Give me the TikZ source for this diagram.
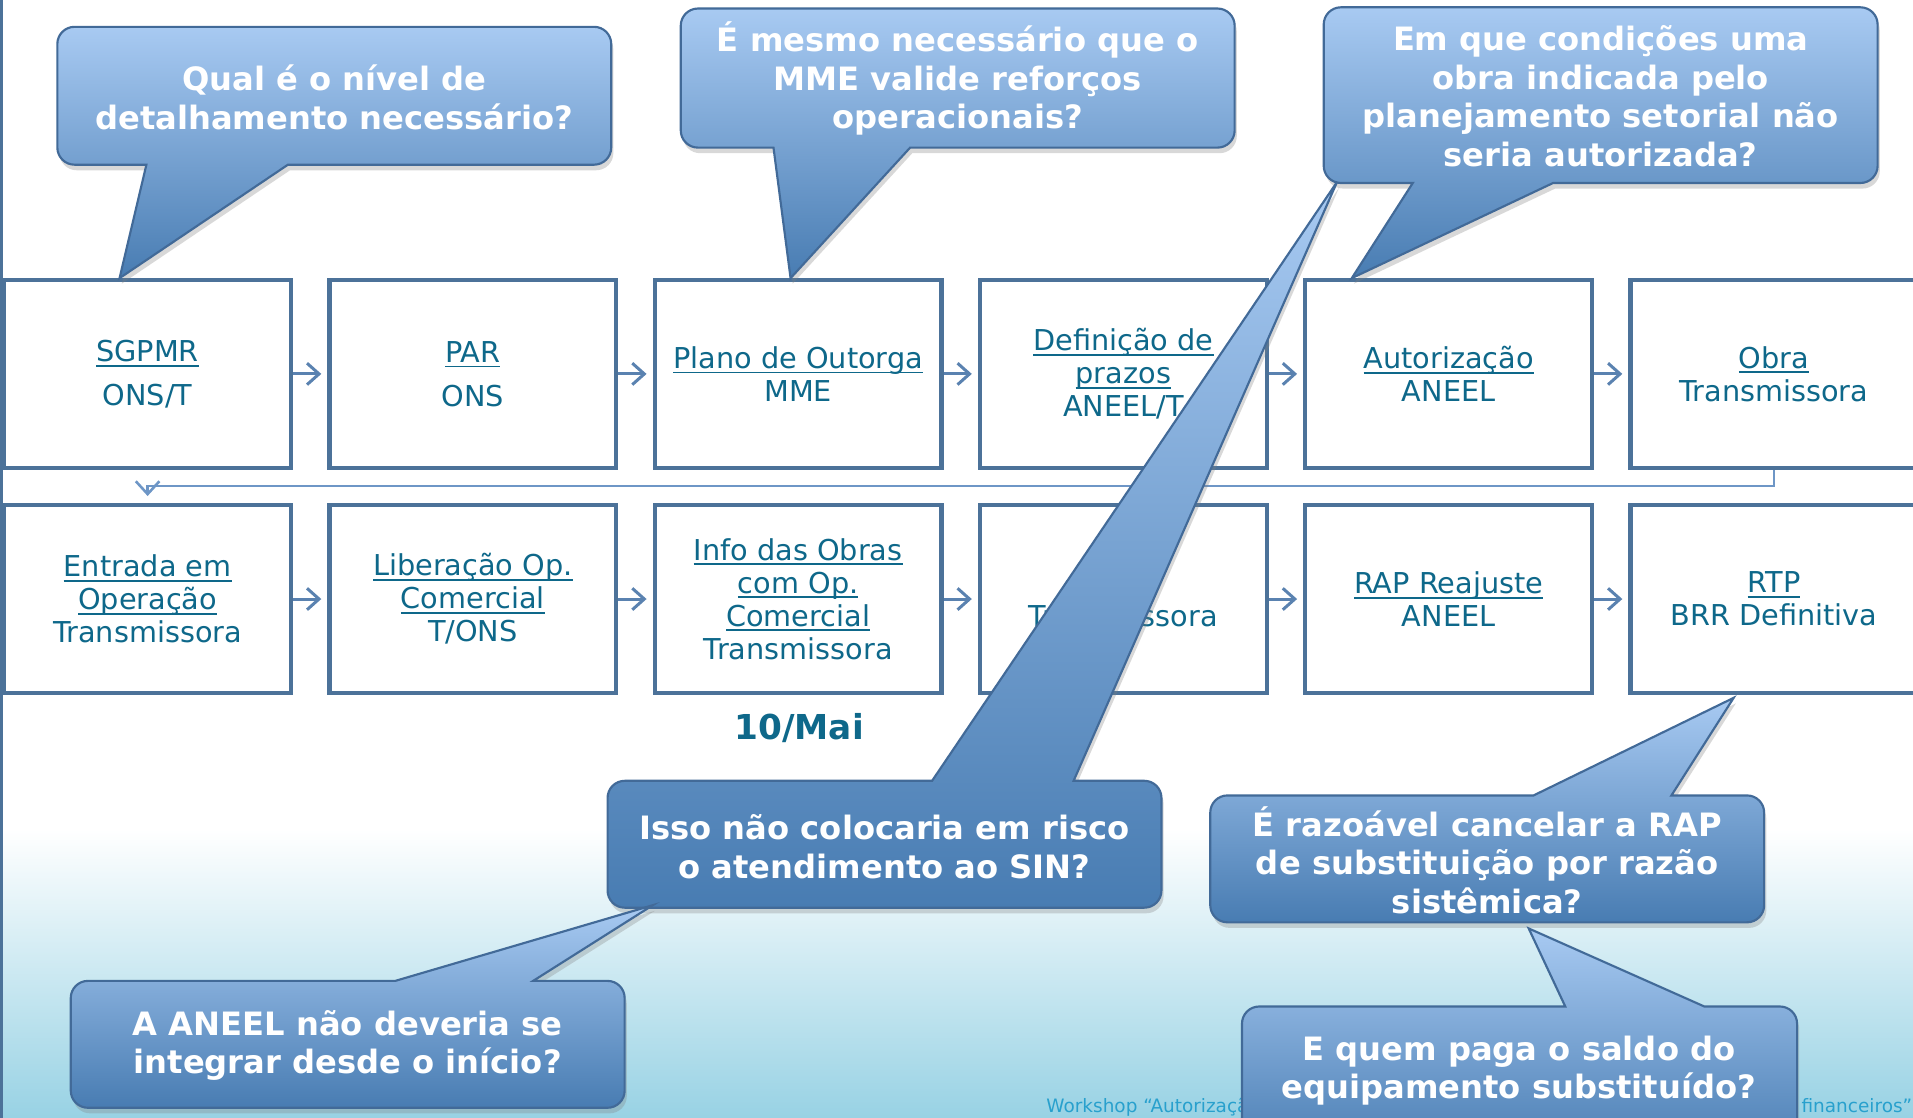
\documentclass[tikz,border=0pt]{standalone}
\usepackage{fontspec}
\setmainfont{DejaVu Sans}
\usetikzlibrary{arrows.meta,shadows}

\definecolor{boxline}{RGB}{76,114,153}
\definecolor{boxtext}{RGB}{14,104,138}
\definecolor{flowcol}{RGB}{90,130,176}
\definecolor{backcol}{RGB}{110,150,198}
\definecolor{bubtop}{RGB}{168,202,242}
\definecolor{bubbot}{RGB}{72,124,178}
\definecolor{bubline}{RGB}{66,106,152}
\definecolor{skyend}{RGB}{152,210,228}
\definecolor{footcol}{RGB}{40,160,205}

\newcommand{\stagefont}{\fontsize{6.7}{7.7}\selectfont\lineskiplimit=-10pt\relax}
\newcommand{\lnk}[1]{\setbox0\hbox{#1}\leavevmode\rlap{\rule[-1.2pt]{\wd0}{0.45pt}}\box0}

\begin{document}
\begin{tikzpicture}[x=0.01cm, y=-0.01cm,
    stage/.style={draw=boxline, line width=1pt, fill=white, minimum width=2.35cm,
      minimum height=1.54cm, align=center, text=boxtext, inner sep=0pt,
      font=\stagefont},
    flow/.style={draw=flowcol, line width=0.7pt, -{Straight Barb[length=2.8pt,width=5pt]}, shorten >=1.4pt},
    back/.style={draw=backcol, line width=0.6pt, -{Straight Barb[length=3pt,width=5.5pt]}, shorten >=1.6pt},
    bubble/.style={draw=bubline, line width=0.5pt, top color=bubtop, bottom color=bubbot,
      drop shadow={shadow xshift=0.5pt, shadow yshift=-1.3pt, opacity=0.3}},
    ask/.style={text=white, align=center, font=\fontsize{7.5}{9}\selectfont\bfseries}]

    \useasboundingbox (0,0) rectangle (1568,916);
    \clip (0,0) rectangle (1568,916);
    \fill[white] (0,0) rectangle (1568,680);
    \shade[top color=white, bottom color=skyend] (0,680) rectangle (1568,916);
    \draw[boxline, line width=1pt] (1,0) -- (1,916);

    % etapas
    \node[stage] (b1) at (121,306.5) {\lnk{SGPMR}\\[2.5pt]ONS/T};
    \node[stage] (b2) at (387.6,306.5) {\lnk{PAR}\\[2.5pt]ONS};
    \node[stage] (b3) at (654.2,306.5) {\lnk{Plano de Outorga}\\MME};
    \node[stage] (b4) at (920.8,306.5) {\lnk{Definição de}\\\lnk{prazos}\\ANEEL/T};
    \node[stage] (b5) at (1187.4,306.5) {\lnk{Autorização}\\ANEEL};
    \node[stage] (b6) at (1454,306.5) {\lnk{Obra}\\Transmissora};
    \node[stage] (b7) at (121,491) {\lnk{Entrada em}\\\lnk{Operação}\\Transmissora};
    \node[stage] (b8) at (387.6,491) {\lnk{Liberação Op.}\\\lnk{Comercial}\\T/ONS};
    \node[stage] (b9) at (654.2,491) {\lnk{Info das Obras}\\\lnk{com Op.}\\\lnk{Comercial}\\Transmissora};
    \node[stage] (b10) at (920.8,491) {\strut\\Transmissora};
    \node[stage] (b11) at (1187.4,491) {\lnk{RAP Reajuste}\\ANEEL};
    \node[stage] (b12) at (1454,491) {\lnk{RTP}\\BRR Definitiva};

    \foreach \a/\b in {1/2,2/3,3/4,4/5,5/6,7/8,8/9,9/10,10/11,11/12}
      \draw[flow] (b\a.east) -- (b\b.west);
    \draw[back] (b6.south) -- ++(0,13) -| (b7.north);

    \node[text=boxtext, font=\fontsize{8}{9}\selectfont\bfseries] (date) at (655,597) {10/Mai};
    \node[anchor=base west, text=footcol, font=\fontsize{4.3}{5}\selectfont, inner sep=0pt] (foot1) at (857,912) {Workshop “Autorização};
    \node[anchor=base west, text=footcol, font=\fontsize{4.3}{5}\selectfont, inner sep=0pt] (foot2) at (1476,912) {financeiros”};

    % perguntas
    \path[bubble] (120,135) -- (98,228) -- (236,135) [rounded corners=4pt] -- (501,135) -- (501,22) -- (47,22) -- (47,135) [sharp corners] -- cycle;
    \node[ask] (q1) at (274,80) {Qual é o nível de\\detalhamento necessário?};

    \path[bubble] (634,121) -- (648,228) -- (746,121) [rounded corners=4pt] -- (1012,121) -- (1012,7) -- (558,7) -- (558,121) [sharp corners] -- cycle;
    \node[ask] (q2) at (785,64.5) {É mesmo necessário que o\\MME valide reforços\\operacionais?};

    \path[bubble] (1158,150) -- (1108,228) -- (1273,150) [rounded corners=4pt] -- (1539,150) -- (1539,6) -- (1085,6) -- (1085,150) [sharp corners] -- cycle;
    \node[ask] (q3) at (1312,79) {Em que condições uma\\obra indicada pelo\\planejamento setorial não\\seria autorizada?};

    \path[bubble] (880,640) -- (1096,149) -- (764,640) [rounded corners=4pt] -- (498,640) -- (498,744) -- (952,744) -- (952,640) [sharp corners] -- cycle;
    \node[ask] (q4) at (725,694) {Isso não colocaria em risco\\o atendimento ao SIN?};

    \path[bubble] (437,804) -- (535,742) -- (324,804) [rounded corners=4pt] -- (58,804) -- (58,908) -- (512,908) -- (512,804) [sharp corners] -- cycle;
    \node[ask] (q5) at (285,857) {A ANEEL não deveria se\\integrar desde o início?};

    \path[bubble] (1370,652) -- (1421,572) -- (1257,652) [rounded corners=4pt] -- (992,652) -- (992,756) -- (1446,756) -- (1446,652) [sharp corners] -- cycle;
    \node[ask] (q6) at (1219,705) {É razoável cancelar a RAP\\de substituição por razão\\sistêmica?};

    \path[bubble] (1397,825) -- (1253,761) -- (1283,825) [rounded corners=4pt] -- (1018,825) -- (1018,950) -- (1473,950) -- (1473,825) [sharp corners] -- cycle;
    \node[ask] (q7) at (1245,877.5) {E quem paga o saldo do\\equipamento substituído?};

\end{tikzpicture}
\end{document}
